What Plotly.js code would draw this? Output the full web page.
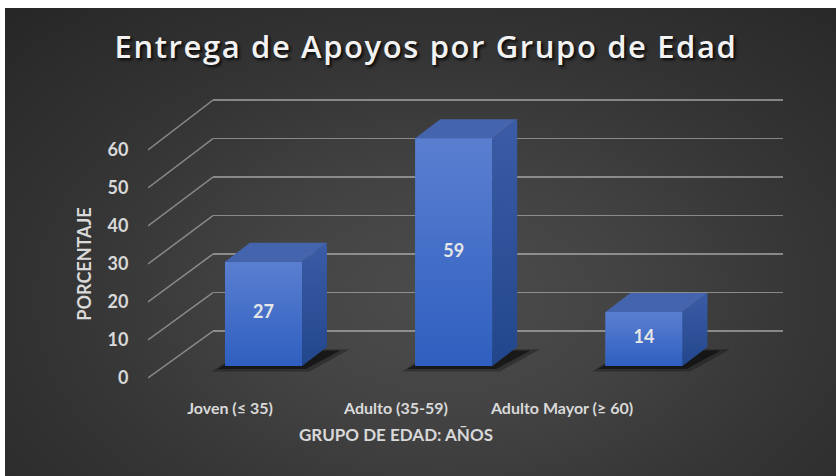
<!DOCTYPE html>
<html><head><meta charset="utf-8">
<script src="https://cdn.plot.ly/plotly-3.0.1.min.js"></script>
<style>
html,body{margin:0;padding:0;background:#fff;}
#bg{position:absolute;left:5px;top:8px;width:831px;height:468px;
 background:radial-gradient(ellipse 75% 85% at 53% 62%, #4c4c4c 0%, #434343 30%, #353535 60%, #272727 100%);}
#chart{position:absolute;left:0;top:0;width:836px;height:476px;}
.gtitle{letter-spacing:1.6px;}
</style></head>
<body><div id="bg"></div><div id="chart"></div>
<script>
// ---- data ----
const categories = ['Joven (≤ 35)', 'Adulto (35-59)', 'Adulto Mayor (≥ 60)'];
const values = [27, 59, 14];
const yTicks = [0, 10, 20, 30, 40, 50, 60];

// ---- geometry (layout only) ----
const W = 836, H = 476;
const px = v => v / W, py = v => 1 - v / H;
const BACK0 = 331, BACKK = 3.85;     // back wall: px of 0, px per unit
const FRONT0 = 378, FRONTK = 3.8;    // front edge of side wall
const BAR0 = 366, BARK = 3.86;       // bar front plane
const BW = 0.405, DX = 0.131, DY = 4.92;

// side wall diagonals: front point expressed in back-wall units
const diagX = [], diagY = [];
yTicks.forEach(v => {
  const frontPx = FRONT0 - FRONTK * v;
  diagX.push(0, 1, null);
  diagY.push((BACK0 - frontPx) / BACKK, v, null);
});

const traces = [];
traces.push({type:'scatter', x:[0], y:[0], mode:'none', xaxis:'x', yaxis:'y', hoverinfo:'skip', showlegend:false});
traces.push({type:'scatter', x:diagX, y:diagY, mode:'lines', xaxis:'x3', yaxis:'y3',
  line:{color:'rgba(185,185,185,0.62)', width:1.5}, hoverinfo:'skip', showlegend:false});
traces.push({type:'scatter', x:[0], y:[0], mode:'none', xaxis:'x4', yaxis:'y4', hoverinfo:'skip', showlegend:false});

// bar front faces (data)
traces.push({type:'bar', x:[0, 1, 2], y:values, width:BW, xaxis:'x2', yaxis:'y2', zorder:0,
  marker:{color:'#3e69c8', line:{width:0}}, textposition:'none',
  hoverinfo:'skip', showlegend:false});

values.forEach((v, i) => {
  const l = i - BW / 2, r = i + BW / 2;
  // soft shadow: two layers
  traces.push({type:'scatter', xaxis:'x2', yaxis:'y2', mode:'lines', fill:'toself', zorder:-2,
    x:[l - 0.07, r + 0.04, r + DX + 0.12, l + DX - 0.02, l - 0.07],
    y:[-1.4, -1.4, DY - 0.6, DY - 0.6, -1.4],
    line:{width:0}, fillcolor:'rgba(0,0,0,0.28)', hoverinfo:'skip', showlegend:false});
  traces.push({type:'scatter', xaxis:'x2', yaxis:'y2', mode:'lines', fill:'toself', zorder:-1,
    x:[l - 0.04, r + 0.02, r + DX + 0.07, l + DX - 0.01, l - 0.04],
    y:[-0.8, -0.8, DY - 0.9, DY - 0.9, -0.8],
    line:{width:0}, fillcolor:'rgba(0,0,0,0.5)', hoverinfo:'skip', showlegend:false});
  // front face gradient overlay
  traces.push({type:'scatter', xaxis:'x2', yaxis:'y2', mode:'lines', fill:'toself', zorder:1,
    x:[l, r, r, l, l], y:[0, 0, v, v, 0], line:{width:0},
    fillgradient:{type:'vertical', colorscale:[[0,'#2f5fc0'],[1,'#5a7fd0']]},
    hoverinfo:'skip', showlegend:false});
  // side face
  traces.push({type:'scatter', xaxis:'x2', yaxis:'y2', mode:'lines', fill:'toself', zorder:1,
    x:[r, r + DX, r + DX, r, r], y:[0, DY, v + DY, v, 0], line:{width:0},
    fillgradient:{type:'vertical', colorscale:[[0,'#22468c'],[1,'#3b5ca6']]},
    hoverinfo:'skip', showlegend:false});
  // top face
  traces.push({type:'scatter', xaxis:'x2', yaxis:'y2', mode:'lines', fill:'toself', zorder:1,
    x:[l, r, r + DX, l + DX, l], y:[v, v, v + DY, v + DY, v],
    line:{width:0}, fillcolor:'#4564ae', hoverinfo:'skip', showlegend:false});
});
// value labels
traces.push({type:'scatter', xaxis:'x2', yaxis:'y2', mode:'text', zorder:2,
  x:values.map((v, i) => i), y:values.map(v => v / 2), text:values.map(String),
  textposition:'middle center',
  textfont:{family:'Lato, "Open Sans", sans-serif', size:18, color:'#e6e6e6', weight:700},
  hoverinfo:'skip', showlegend:false});

const tickFont = {family:'Lato, "Open Sans", sans-serif', size:16, color:'#d9d9d9', weight:700};
const ytickFont = {family:'Lato, "Open Sans", sans-serif', size:18, color:'#d9d9d9', weight:700};

const layout = {
  width:W, height:H, margin:{l:0, r:0, t:0, b:0},
  paper_bgcolor:'rgba(0,0,0,0)', plot_bgcolor:'rgba(0,0,0,0)',
  showlegend:false, barmode:'overlay',
  title:{text:'Entrega de Apoyos por Grupo de Edad', x:426 / W, xanchor:'center', y:py(47), yanchor:'middle',
    font:{family:'"Open Sans", sans-serif', size:31, color:'#f2f2f2', weight:600,
      shadow:'2px 2px 3px rgba(0,0,0,0.85)'}},
  xaxis:{domain:[px(213), px(783)], range:[-0.5, 2.5], visible:false, fixedrange:true},
  yaxis:{domain:[py(BACK0 + 1 * BACKK), py(BACK0 - 61 * BACKK)], range:[-1, 61], anchor:'x',
    tickvals:yTicks, showticklabels:false, ticks:'', showgrid:true,
    gridcolor:'rgba(185,185,185,0.62)', gridwidth:1.5, zeroline:false, showline:false, fixedrange:true},
  xaxis2:{domain:[px(168.4), px(739.1)], range:[-0.5, 2.5], visible:false, anchor:'y2', fixedrange:true},
  yaxis2:{domain:[py(BAR0 + 3 * BARK), py(BAR0 - 66 * BARK)], range:[-3, 66], visible:false, anchor:'x2', fixedrange:true},
  xaxis3:{domain:[px(148), px(213)], range:[0, 1], visible:false, anchor:'y3', fixedrange:true},
  yaxis3:{domain:[py(BACK0 + 13 * BACKK), py(BACK0 - 61 * BACKK)], range:[-13, 61], visible:false, anchor:'x3', fixedrange:true},
  xaxis4:{domain:[px(147), px(645)], range:[-0.5, 2.5], anchor:'y4', tickvals:[0, 1, 2], ticktext:categories,
    ticks:'outside', ticklen:16, tickcolor:'rgba(0,0,0,0)', tickfont:tickFont,
    showgrid:false, zeroline:false, showline:false, fixedrange:true,
    title:{text:'GRUPO DE EDAD: AÑOS', font:{family:'Lato, "Open Sans", sans-serif', size:17, color:'#d9d9d9', weight:700}, standoff:12}},
  yaxis4:{domain:[py(FRONT0), py(FRONT0 - 60 * FRONTK)], range:[0, 60], anchor:'free', position:px(148),
    tickvals:yTicks, ticks:'outside', ticklen:16, tickcolor:'rgba(0,0,0,0)', tickfont:ytickFont,
    showgrid:false, zeroline:false, showline:false, fixedrange:true,
    title:{text:'PORCENTAJE', font:{family:'Lato, "Open Sans", sans-serif', size:18, color:'#d9d9d9', weight:700}, standoff:10}}
};

Plotly.newPlot('chart', traces, layout, {displayModeBar:false, staticPlot:true});
</script></body></html>
